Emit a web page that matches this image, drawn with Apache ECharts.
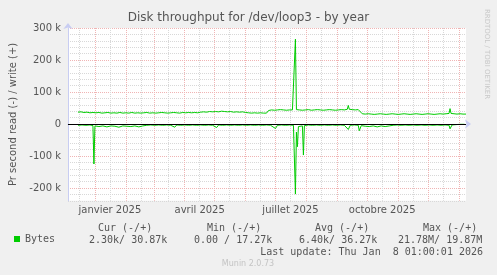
<!DOCTYPE html>
<html><head><meta charset="utf-8">
<script src="https://cdn.jsdelivr.net/npm/echarts@6/dist/echarts.min.js"></script>
<style>html,body{margin:0;padding:0;background:#f0f0f0}#c{width:497px;height:275px}</style>
</head><body><div id="c"></div>
<script>
// ---- data (values in k bytes/s; day = days since 2024-12-05) ----
const chartTitle = 'Disk throughput for /dev/loop3 - by year';
const yAxisTitle = 'Pr second read (-) / write (+)';
const tickDates = ['2025-01-16', '2025-04-16', '2025-07-16', '2025-10-16'];
const tickLabels = ['janvier 2025', 'avril 2025', 'juillet 2025', 'octobre 2025'];
const writeData = [
 [10,37],[13,38],[16,36],[19,37],[22,35],[25,36],[28,35],[31,36],[34,34],[37,35],[40,36],[43,34],[46,35],[49,34],[52,36],[55,34],[58,35],[61,34],[64,36],[67,34],[70,35],[73,34],[76,35],[79,36],[82,34],[85,35],[88,34],[91,35],[94,36],[97,35],[100,34],[103,35],[106,36],[109,35],[112,34],[115,36],[118,35],[121,36],[124,35],[127,36],[130,35],[133,37],[136,38],[139,37],[142,39],[145,38],[148,39],[151,38],[154,40],[157,39],[160,38],[163,39],[166,37],[169,38],[172,37],[175,38],[178,36],[181,35],[184,34],[187,35],[190,34],[193,35],[196,34],[199,34],[201,42],[204,44],[207,43],[210,44],[213,45],[216,44],[219,43],[222,44],[225,44],[227,44],[228,265],[229,45],[232,44],[235,43],[238,44],[241,45],[244,43],[247,44],[250,45],[253,44],[256,43],[259,44],[262,45],[265,44],[268,43],[271,44],[274,45],[277,44],[280,46],[281,58],[282,46],[285,45],[288,44],[291,45],[295,32],[298,31],[301,32],[304,31],[307,30],[310,31],[313,32],[316,31],[319,30],[322,31],[325,32],[328,31],[331,30],[334,31],[337,32],[340,31],[343,30],[346,31],[349,32],[352,31],[355,30],[358,31],[361,32],[364,31],[367,30],[370,31],[373,32],[376,31],[379,32],[382,33],[383,48],[384,33],[387,32],[390,31],[393,32],[396,31],[399,31]
];
const readData = [
 [10,-4],[12,-6],[14,-3],[16,-7],[18,-4],[20,-6],[22,-3],[24,-8],[25,-5],[26,-125],[27,-6],[29,-4],[31,-8],[33,-4],[35,-6],[37,-3],[39,-9],[41,-4],[43,-6],[45,-3],[47,-7],[49,-4],[51,-10],[53,-4],[55,-6],[57,-3],[59,-7],[61,-4],[63,-8],[65,-3],[67,-6],[69,-4],[71,-9],[73,-3],[75,-6],[77,-11],[79,-4],[81,-6],[83,-3],[85,-8],[87,-4],[89,-6],[91,-3],[93,-9],[95,-4],[97,-6],[99,-3],[101,-8],[103,-4],[105,-6],[107,-10],[109,-3],[111,-6],[113,-4],[115,-8],[117,-3],[119,-6],[121,-4],[123,-9],[125,-3],[127,-6],[129,-4],[131,-8],[133,-3],[135,-7],[137,-4],[139,-6],[141,-3],[143,-9],[145,-4],[147,-6],[149,-11],[151,-3],[153,-6],[155,-4],[157,-8],[159,-3],[161,-7],[163,-4],[165,-6],[167,-3],[169,-9],[171,-4],[173,-6],[175,-3],[177,-8],[179,-4],[181,-6],[183,-3],[185,-7],[187,-4],[189,-9],[191,-3],[193,-6],[195,-4],[197,-7],[199,-3],[201,-6],[203,-4],[205,-8],[208,-14],[210,-4],[212,-7],[214,-3],[216,-6],[218,-4],[220,-8],[222,-3],[224,-6],[226,-4],[227,-5],[228,-219],[229,-25],[230,-71],[231,-8],[233,-5],[235,-6],[236,-97],[237,-5],[239,-7],[241,-3],[243,-8],[245,-4],[247,-6],[249,-3],[251,-9],[253,-4],[255,-6],[257,-3],[259,-7],[261,-4],[263,-8],[265,-3],[267,-6],[269,-4],[271,-9],[273,-3],[275,-6],[277,-4],[279,-7],[281,-17],[283,-4],[285,-7],[287,-3],[289,-6],[291,-4],[292,-21],[294,-5],[296,-3],[298,-7],[300,-4],[302,-8],[304,-3],[306,-6],[308,-4],[310,-9],[312,-3],[314,-6],[316,-4],[318,-8],[320,-3],[322,-6],[324,-10],[326,-4],[328,-6],[330,-3],[332,-8],[334,-4],[336,-6],[338,-3],[340,-9],[342,-4],[344,-6],[346,-3],[348,-7],[350,-4],[352,-8],[354,-3],[356,-6],[358,-4],[360,-9],[362,-3],[364,-6],[366,-4],[368,-7],[370,-3],[372,-6],[374,-4],[376,-7],[378,-3],[380,-5],[382,-4],[383,-15],[385,-3],[387,-4],[389,-2],[391,-3],[393,-1],[395,-2],[397,-1],[399,-2]
];
const legendHeaders = ['Cur (-/+)', 'Min (-/+)', 'Avg (-/+)', 'Max (-/+)'];
const legendValues = ['2.30k/ 30.87k', '0.00 / 17.27k', '6.40k/ 36.27k', '21.78M/ 19.87M'];
const lastUpdate = 'Last update: Thu Jan  8 01:00:01 2026';
const footer = 'Munin 2.0.73';
const sideText = 'RRDTOOL / TOBI OETIKER';

// ---- axis categories: one per day ----
const days = [];
const t0 = Date.UTC(2024, 11, 5);
for (let i = 0; i < 400; i++) days.push(new Date(t0 + i * 86400000).toISOString().slice(0, 10));

const mono = 'DejaVu Sans Mono';
const sans = 'DejaVu Sans';
const txt = '#555';
const minorC = '#d8d8d8';
const majorC = '#f0b4b4';
const headerX = [98, 207, 315, 423];
const valueX = [89, 194, 299, 398];
const graphics = [];
legendHeaders.forEach((h, i) => graphics.push({type:'text', x:headerX[i], y:228, style:{text:h, font:'10px ' + mono, fill:txt, verticalAlign:'middle'}}));
legendValues.forEach((v, i) => graphics.push({type:'text', x:valueX[i], y:240, style:{text:v, font:'10px ' + mono, fill:txt, verticalAlign:'middle'}}));
graphics.push({type:'text', x:483, y:252, style:{text:lastUpdate, font:'10px ' + mono, fill:txt, align:'right', verticalAlign:'middle'}});
graphics.push({type:'text', x:248, y:264, style:{text:footer, font:'8px ' + sans, fill:'#c4c4c4', align:'center', verticalAlign:'middle'}});
graphics.push({type:'text', x:487, y:54, rotation:-Math.PI/2, style:{text:sideText, font:'7px ' + sans, fill:'#c8c8c8', align:'center', verticalAlign:'middle'}});

const chart = echarts.init(document.getElementById('c'), null, {renderer:'canvas'});
chart.setOption({
  animation:false,
  backgroundColor:'#f0f0f0',
  title:{text:chartTitle, left:'center', top:12, padding:0, textStyle:{fontFamily:sans, fontSize:12, fontWeight:'normal', color:txt}},
  legend:{data:['Bytes'], left:14, top:234, padding:0, icon:'rect', itemWidth:6, itemHeight:6, itemGap:0,
          textStyle:{fontFamily:mono, fontSize:10, color:txt}},
  grid:{left:66, right:31, top:28, bottom:74.2, show:true, backgroundColor:'#ffffff', borderWidth:0},
  xAxis:{type:'category', data:days, boundaryGap:false,
    axisLine:{show:true, lineStyle:{color:'#c8cdf2', width:1}, symbol:['none','arrow'], symbolSize:[7,6], symbolOffset:[0,5]},
    axisTick:{show:false},
    axisLabel:{interval:(i, v) => tickDates.includes(v), formatter:v => tickLabels[tickDates.indexOf(v)] || '',
      margin:5, fontFamily:sans, fontSize:10, color:txt},
    splitLine:{show:true, interval:(i, v) => v.endsWith('-01') || v.endsWith('-16'),
      lineStyle:{color:[minorC, majorC], type:[1,1], width:1}}
  },
  yAxis:{type:'value', min:-240, max:300, interval:20,
    name:yAxisTitle, nameLocation:'middle', nameGap:50, nameTextStyle:{fontFamily:sans, fontSize:10, color:txt},
    axisLine:{show:true, lineStyle:{color:'#c8cdf2', width:1}, symbol:['none','arrow'], symbolSize:[7,6], symbolOffset:[0,5]},
    axisTick:{show:false},
    axisLabel:{formatter:v => (v % 100 === 0 ? (v === 0 ? '0' : v + ' k') : ''), margin:7, fontFamily:sans, fontSize:10, color:txt},
    splitLine:{show:true, lineStyle:{color:[minorC, minorC, majorC, minorC, minorC], type:[1,1], width:1}}
  },
  series:[
    {name:'Bytes', type:'line', data:writeData, showSymbol:false, color:'#00cc00', lineStyle:{width:1, color:'#00cc00'},
     markLine:{silent:true, symbol:'none', label:{show:false}, lineStyle:{color:'#000', width:1, type:'solid'}, data:[{yAxis:0}]}},
    {name:'Bytes', type:'line', data:readData, showSymbol:false, color:'#00cc00', lineStyle:{width:1, color:'#00cc00'}}
  ],
  graphic:graphics
});
</script></body></html>
